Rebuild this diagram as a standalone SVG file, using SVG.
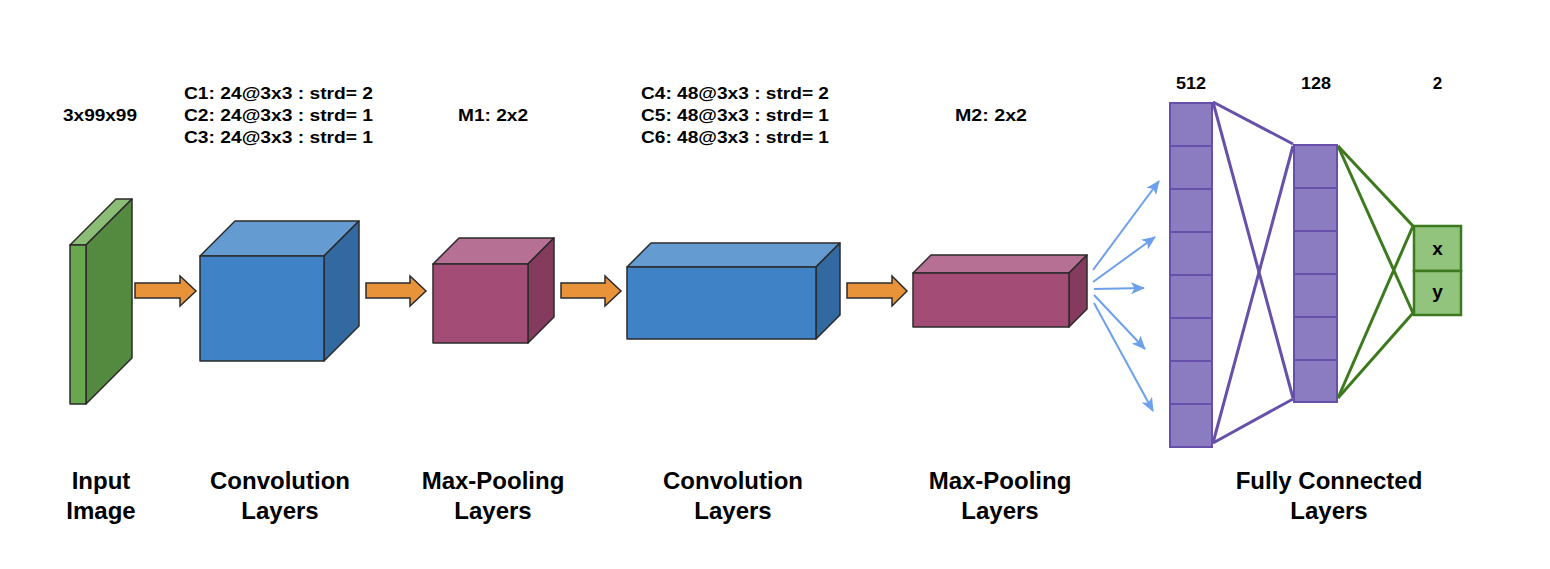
<svg xmlns="http://www.w3.org/2000/svg" width="1550" height="569" viewBox="0 0 1550 569">
<style>
  text { font-family: "Liberation Sans", Arial, sans-serif; font-weight: bold; fill: #000; }
  .top { font-size: 17px; }
  .lbl { font-size: 24px; text-anchor: middle; }
  .ctr { text-anchor: middle; }
  .edge { stroke: #2b2b2b; stroke-width: 1.5; stroke-linejoin: round; }
  .gF { fill: #67A74E; } .gT { fill: #8BBE74; } .gS { fill: #548A3F; }
  .bF { fill: #3F83C6; } .bT { fill: #649CD1; } .bS { fill: #3169A0; }
  .mF { fill: #A34D76; } .mT { fill: #B67093; } .mS { fill: #843B5E; }
  .oarrow { fill: #E8923A; stroke: #2b2b2b; stroke-width: 1.5; stroke-linejoin: miter; }
  .blue { stroke: #6DA0EA; stroke-width: 2; fill: none; marker-end: url(#bh); }
  .pcell { fill: #8B7BC0; stroke: #6750AA; stroke-width: 2; }
  .pline { stroke: #6750AA; stroke-width: 3; fill: none; }
  .gline { stroke: #3D7A1D; stroke-width: 3; fill: none; }
  .gcell { fill: #93C47D; stroke: #3D7A1D; stroke-width: 2.5; }
</style>
<defs>
  <marker id="bh" viewBox="0 0 14 12" refX="13" refY="6" markerWidth="14" markerHeight="12" markerUnits="userSpaceOnUse" orient="auto">
    <path d="M0,0 L14,6 L0,12 L3.5,6 z" fill="#6DA0EA"/>
  </marker>
</defs>
<rect width="1550" height="569" fill="#fff"/>

<!-- top texts -->
<g id="top-labels">
  <text class="top ctr" x="100" y="121" textLength="74" lengthAdjust="spacingAndGlyphs">3x99x99</text>
  <text class="top" x="184" y="99" textLength="189" lengthAdjust="spacingAndGlyphs">C1: 24@3x3 : strd= 2</text>
  <text class="top" x="184" y="121" textLength="189" lengthAdjust="spacingAndGlyphs">C2: 24@3x3 : strd= 1</text>
  <text class="top" x="184" y="143" textLength="189" lengthAdjust="spacingAndGlyphs">C3: 24@3x3 : strd= 1</text>
  <text class="top ctr" x="493" y="121" textLength="70" lengthAdjust="spacingAndGlyphs">M1: 2x2</text>
  <text class="top" x="641" y="99" textLength="188" lengthAdjust="spacingAndGlyphs">C4: 48@3x3 : strd= 2</text>
  <text class="top" x="641" y="121" textLength="188" lengthAdjust="spacingAndGlyphs">C5: 48@3x3 : strd= 1</text>
  <text class="top" x="641" y="143" textLength="188" lengthAdjust="spacingAndGlyphs">C6: 48@3x3 : strd= 1</text>
  <text class="top ctr" x="991" y="121" textLength="72" lengthAdjust="spacingAndGlyphs">M2: 2x2</text>
  <text class="top ctr" x="1191" y="89" textLength="30" lengthAdjust="spacingAndGlyphs">512</text>
  <text class="top ctr" x="1316" y="89" textLength="30" lengthAdjust="spacingAndGlyphs">128</text>
  <text class="top ctr" x="1437.5" y="89">2</text>
</g>

<!-- Input image slab -->
<g id="input-image">
  <polygon class="gT edge" points="70,245 86,245 132,199 116,199"/>
  <polygon class="gS edge" points="86,245 132,199 132,358 86,404"/>
  <rect class="gF edge" x="70" y="245" width="16" height="159"/>
</g>

<!-- Conv block 1 -->
<g id="conv1">
  <polygon class="bT edge" points="200,256 324,256 359,221 235,221"/>
  <polygon class="bS edge" points="324,256 359,221 359,326 324,361"/>
  <rect class="bF edge" x="200" y="256" width="124" height="105"/>
</g>

<!-- Maxpool 1 -->
<g id="pool1">
  <polygon class="mT edge" points="433,264 528,264 554,238 459,238"/>
  <polygon class="mS edge" points="528,264 554,238 554,317 528,343"/>
  <rect class="mF edge" x="433" y="264" width="95" height="79"/>
</g>

<!-- Conv block 2 -->
<g id="conv2">
  <polygon class="bT edge" points="627,267 816,267 840,243 651,243"/>
  <polygon class="bS edge" points="816,267 840,243 840,315 816,339"/>
  <rect class="bF edge" x="627" y="267" width="189" height="72"/>
</g>

<!-- Maxpool 2 -->
<g id="pool2">
  <polygon class="mT edge" points="913,273 1069,273 1087,255 931,255"/>
  <polygon class="mS edge" points="1069,273 1087,255 1087,309 1069,327"/>
  <rect class="mF edge" x="913" y="273" width="156" height="54"/>
</g>

<!-- FC 512 -->
<g id="fc512">
  <rect class="pcell" x="1170" y="103" width="42" height="43"/>
  <rect class="pcell" x="1170" y="146" width="42" height="43"/>
  <rect class="pcell" x="1170" y="189" width="42" height="43"/>
  <rect class="pcell" x="1170" y="232" width="42" height="43"/>
  <rect class="pcell" x="1170" y="275" width="42" height="43"/>
  <rect class="pcell" x="1170" y="318" width="42" height="43"/>
  <rect class="pcell" x="1170" y="361" width="42" height="43"/>
  <rect class="pcell" x="1170" y="404" width="42" height="43"/>
</g>

<!-- FC 128 -->
<g id="fc128">
  <rect class="pcell" x="1294" y="145" width="43" height="43"/>
  <rect class="pcell" x="1294" y="188" width="43" height="43"/>
  <rect class="pcell" x="1294" y="231" width="43" height="43"/>
  <rect class="pcell" x="1294" y="274" width="43" height="43"/>
  <rect class="pcell" x="1294" y="317" width="43" height="43"/>
  <rect class="pcell" x="1294" y="360" width="43" height="42"/>
</g>

<!-- Output -->
<g id="output">
  <rect class="gcell" x="1414" y="226" width="47" height="45"/>
  <rect class="gcell" x="1414" y="271" width="47" height="44"/>
  <text class="ctr" x="1437.5" y="255" font-size="19">x</text>
  <text class="ctr" x="1437.5" y="298" font-size="19">y</text>
</g>

<!-- connectors -->
<g id="connectors">
  <polygon class="oarrow" points="135,283 180,283 180,276 196,291 180,306 180,298 135,298"/>
  <polygon class="oarrow" points="366,283 410,283 410,276 426,291 410,306 410,298 366,298"/>
  <polygon class="oarrow" points="561,283 605,283 605,276 621,291 605,306 605,298 561,298"/>
  <polygon class="oarrow" points="847,283 892,283 892,276 907,291 892,306 892,298 847,298"/>

  <line class="blue" x1="1093" y1="270" x2="1159" y2="181"/>
  <line class="blue" x1="1093" y1="282" x2="1155" y2="237"/>
  <line class="blue" x1="1094" y1="289" x2="1144" y2="288"/>
  <line class="blue" x1="1094" y1="295" x2="1145" y2="349"/>
  <line class="blue" x1="1094" y1="303" x2="1153" y2="411"/>

  <line class="pline" x1="1213" y1="102" x2="1293" y2="144"/>
  <line class="pline" x1="1213" y1="102" x2="1293" y2="398"/>
  <line class="pline" x1="1213" y1="443" x2="1293" y2="146"/>
  <line class="pline" x1="1213" y1="443" x2="1293" y2="399"/>

  <line class="gline" x1="1338" y1="146" x2="1413" y2="226"/>
  <line class="gline" x1="1338" y1="146" x2="1413" y2="313"/>
  <line class="gline" x1="1338" y1="398" x2="1413" y2="226"/>
  <line class="gline" x1="1338" y1="398" x2="1413" y2="313"/>
</g>

<!-- bottom labels -->
<g id="bottom-labels">
  <text class="lbl" x="101" y="489">Input</text>
  <text class="lbl" x="101" y="519">Image</text>
  <text class="lbl" x="280" y="489">Convolution</text>
  <text class="lbl" x="280" y="519">Layers</text>
  <text class="lbl" x="493" y="489">Max-Pooling</text>
  <text class="lbl" x="493" y="519">Layers</text>
  <text class="lbl" x="733" y="489">Convolution</text>
  <text class="lbl" x="733" y="519">Layers</text>
  <text class="lbl" x="1000" y="489">Max-Pooling</text>
  <text class="lbl" x="1000" y="519">Layers</text>
  <text class="lbl" x="1329" y="489">Fully Connected</text>
  <text class="lbl" x="1329" y="519">Layers</text>
</g>
</svg>
